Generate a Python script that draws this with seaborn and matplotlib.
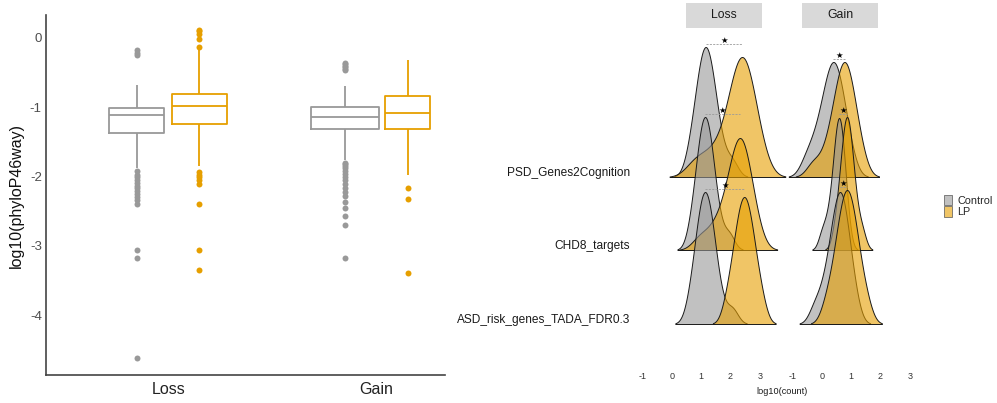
import numpy as np
import pandas as pd
import seaborn as sns
import matplotlib.pyplot as plt
from matplotlib.patches import Patch, Rectangle
from matplotlib.colors import to_rgba
from matplotlib.transforms import blended_transform_factory

sns.set_theme(style="white")
plt.rcParams['font.family'] = ['Liberation Sans', 'DejaVu Sans']
plt.rcParams['axes.unicode_minus'] = False

# ---- left panel: log10(phyloP46way)
# (outliers, whisker ends, and the quartile/median levels repeated so the box lands where it is drawn)
cnv_types = ['Loss', 'Gain']
groups = ['Control', 'LP']

loss_ctrl = ([-4.62, -3.18, -3.06, -2.39, -2.33, -2.29, -2.25, -2.21, -2.17, -2.13,
              -2.09, -2.05, -2.01, -1.97, -1.92, -1.87]
             + [-1.365] * 40 + [-1.106] * 40 + [-1.015] * 40
             + [-0.68, -0.24, -0.22, -0.18])
loss_lp = ([-3.34, -3.06, -2.40, -2.10, -2.05, -2.00, -1.97, -1.94, -1.85]
           + [-1.24] * 40 + [-0.98] * 40 + [-0.81] * 40
           + [-0.17, -0.13, -0.01, 0.06, 0.10, 0.12])
gain_ctrl = ([-3.18, -2.70, -2.57, -2.45, -2.36, -2.28, -2.22, -2.16, -2.10, -2.05,
              -2.00, -1.96, -1.92, -1.88, -1.85, -1.82, -1.80, -1.76]
             + [-1.31] * 40 + [-1.145] * 40 + [-1.0] * 40
             + [-0.69, -0.47, -0.45, -0.42, -0.40, -0.38, -0.36])
gain_lp = ([-3.39, -2.32, -2.17, -1.98]
           + [-1.32] * 40 + [-1.086] * 40 + [-0.84] * 40
           + [-0.32])

# ---- right panel: log10(count) samples per gene set
gene_sets = ['PSD_Genes2Cognition', 'CHD8_targets', 'ASD_risk_genes_TADA_FDR0.3']

loss_psd_ctrl = [0.60, 0.77, 0.86, 0.93, 0.99, 1.05, 1.10, 1.15, 1.20, 1.25, 1.31, 1.37, 1.44, 1.53, 1.70, 2.05]
loss_psd_lp = [0.75, 1.15, 1.50, 1.76, 1.95, 2.06, 2.14, 2.22, 2.28, 2.34, 2.40, 2.46, 2.52, 2.58, 2.66, 2.74, 2.85, 3.04]
loss_chd8_ctrl = [0.65, 0.80, 0.88, 0.94, 0.99, 1.04, 1.09, 1.13, 1.17, 1.22, 1.27, 1.32, 1.38, 1.46, 1.61, 1.95]
loss_chd8_lp = [0.95, 1.35, 1.62, 1.78, 1.93, 2.03, 2.10, 2.17, 2.22, 2.28, 2.33, 2.38, 2.44, 2.49, 2.56, 2.63, 2.73, 2.90]
loss_asd_ctrl = [0.62, 0.77, 0.86, 0.93, 0.98, 1.03, 1.08, 1.13, 1.18, 1.23, 1.28, 1.33, 1.40, 1.49, 1.64, 2.05]
loss_asd_lp = [1.87, 2.05, 2.15, 2.23, 2.30, 2.36, 2.41, 2.47, 2.53, 2.58, 2.64, 2.71, 2.79, 2.89, 3.07]
gain_psd_ctrl = [-0.55, -0.30, -0.12, 0.00, 0.10, 0.18, 0.25, 0.31, 0.37, 0.43, 0.49, 0.55, 0.62, 0.70, 0.80, 0.98]
gain_psd_lp = [-0.30, 0.10, 0.30, 0.42, 0.51, 0.58, 0.64, 0.70, 0.76, 0.81, 0.87, 0.93, 0.99, 1.07, 1.17, 1.35]
gain_chd8_ctrl = [0.00, 0.18, 0.30, 0.38, 0.43, 0.47, 0.51, 0.54, 0.57, 0.60, 0.63, 0.66, 0.70, 0.74, 0.79, 0.88]
gain_chd8_lp = [0.45, 0.58, 0.65, 0.70, 0.74, 0.78, 0.82, 0.85, 0.88, 0.91, 0.95, 0.99, 1.04, 1.10, 1.20, 1.38]
gain_asd_ctrl = [-0.25, 0.02, 0.18, 0.29, 0.37, 0.44, 0.50, 0.55, 0.60, 0.65, 0.70, 0.75, 0.81, 0.88, 0.97, 1.13]
gain_asd_lp = [0.15, 0.38, 0.50, 0.59, 0.67, 0.73, 0.79, 0.85, 0.91, 0.97, 1.03, 1.11, 1.19, 1.30, 1.52]

count_ticks = [-1, 0, 1, 2, 3]

# ---- styles / layout (pixels of the 997x403 canvas)
W, H = 997, 403
box_colors = {'Control': '#999999', 'LP': '#E69F00'}
box_scale = {-0.15: 0.88, 0.15: 0.87, 0.85: 1.09, 1.15: 0.71}
col_left = {'Loss': 630, 'Gain': 780}
col_w = 155
count_xlim = (-1.436, 3.863)
baseline = {'PSD_Genes2Cognition': 177, 'CHD8_targets': 250, 'ASD_risk_genes_TADA_FDR0.3': 324}
ridge_h = {
    ('Loss', 'PSD_Genes2Cognition'): (130, 120),
    ('Loss', 'CHD8_targets'): (133, 112),
    ('Loss', 'ASD_risk_genes_TADA_FDR0.3'): (132, 127),
    ('Gain', 'PSD_Genes2Cognition'): (115, 115),
    ('Gain', 'CHD8_targets'): (132, 133),
    ('Gain', 'ASD_risk_genes_TADA_FDR0.3'): (132, 134),
}
AXH = 150


def fig_rect(x0, y0, w, h):
    return [x0 / W, 1 - (y0 + h) / H, w / W, h / H]


fig = plt.figure(figsize=(W / 100, H / 100), dpi=100)

# ================= boxplot =================
box_df = pd.concat([
    pd.DataFrame({'cnv': 'Loss', 'group': 'Control', 'phylop': loss_ctrl}),
    pd.DataFrame({'cnv': 'Loss', 'group': 'LP', 'phylop': loss_lp}),
    pd.DataFrame({'cnv': 'Gain', 'group': 'Control', 'phylop': gain_ctrl}),
    pd.DataFrame({'cnv': 'Gain', 'group': 'LP', 'phylop': gain_lp}),
], ignore_index=True)

ax = fig.add_axes(fig_rect(46, 15, 399, 360))
sns.boxplot(data=box_df, x='cnv', y='phylop', hue='group', order=cnv_types, hue_order=groups,
            palette=box_colors, fill=False, width=0.6, gap=0, linewidth=1.3, showcaps=False,
            flierprops=dict(marker='o', markersize=4.3), legend=False, ax=ax)


def nearest_scale(cx):
    k = min(box_scale, key=lambda c: abs(c - cx))
    return k, box_scale[k]


for ln in ax.lines:
    if ln.get_marker() == 'o':
        ln.set_markerfacecolor(ln.get_markeredgecolor())
        ln.set_markeredgewidth(0)
        continue
    xd = np.asarray(ln.get_xdata(), dtype=float)
    if xd.size and xd.max() - xd.min() > 1e-9:
        cx, f = nearest_scale((xd.max() + xd.min()) / 2)
        ln.set_xdata(cx + (xd - cx) * f)
for p in ax.patches:
    v = p.get_path().vertices
    cx, f = nearest_scale((v[:, 0].max() + v[:, 0].min()) / 2)
    v[:, 0] = cx + (v[:, 0] - cx) * f

ax.set_xlim(-0.587, 1.33)
ax.set_ylim(-4.86, 0.33)
ax.set_yticks([0, -1, -2, -3, -4])
ax.set_xlabel('')
ax.set_ylabel('log10(phyloP46way)', fontsize=11.5, color='#111111', labelpad=4)
ax.tick_params(axis='y', length=0, pad=3, labelsize=9.5, labelcolor='#4D4D4D')
ax.tick_params(axis='x', length=0, pad=5, labelsize=11.5, labelcolor='#222222')
sns.despine(ax=ax)
for s in ['left', 'bottom']:
    ax.spines[s].set_color('#444444')
    ax.spines[s].set_linewidth(1.2)

# ================= ridgelines =================
samples = {
    ('Loss', 'PSD_Genes2Cognition'): (loss_psd_ctrl, loss_psd_lp),
    ('Loss', 'CHD8_targets'): (loss_chd8_ctrl, loss_chd8_lp),
    ('Loss', 'ASD_risk_genes_TADA_FDR0.3'): (loss_asd_ctrl, loss_asd_lp),
    ('Gain', 'PSD_Genes2Cognition'): (gain_psd_ctrl, gain_psd_lp),
    ('Gain', 'CHD8_targets'): (gain_chd8_ctrl, gain_chd8_lp),
    ('Gain', 'ASD_risk_genes_TADA_FDR0.3'): (gain_asd_ctrl, gain_asd_lp),
}

# tick axes, one per facet column
for cnv in cnv_types:
    bax = fig.add_axes(fig_rect(col_left[cnv], 60, col_w, 309))
    bax.set_facecolor('none')
    bax.set_xlim(count_xlim)
    bax.set_xticks(count_ticks)
    bax.set_yticks([])
    bax.tick_params(axis='x', length=0, pad=2, labelsize=6.5, labelcolor='#333333')
    for s in bax.spines.values():
        s.set_visible(False)

for gs in gene_sets:
    for cnv in cnv_types:
        peaks = []
        for grp, vals, target in zip(groups, samples[(cnv, gs)], ridge_h[(cnv, gs)]):
            rax = fig.add_axes(fig_rect(col_left[cnv], baseline[gs] - AXH, col_w, AXH))
            rax.set_axis_off()
            sns.kdeplot(x=vals, ax=rax, fill=True, color=box_colors[grp], alpha=0.6,
                        linewidth=0.7, edgecolor='#1a1a1a', cut=2.5, bw_adjust=1.0)
            coll = rax.collections[-1]
            coll.set_clip_on(False)
            v = coll.get_paths()[0].vertices
            ymax = v[:, 1].max()
            peaks.append(v[np.argmax(v[:, 1]), 0])
            rax.set_xlim(count_xlim)
            rax.set_ylim(0, ymax * AXH / target)
        # significance marker between the two groups
        trans = blended_transform_factory(rax.transData, rax.transAxes)
        y_line = (max(ridge_h[(cnv, gs)]) + 3) / AXH
        rax.plot(peaks, [y_line, y_line], transform=trans, color='#9a9a9a', lw=0.6,
                 ls=(0, (2.5, 1.5)), clip_on=False)
        rax.text(np.mean(peaks), y_line - 0.005, '\u2605', transform=trans, ha='center', va='bottom',
                 fontsize=6, family=['DejaVu Sans'], color='black')

# facet strips
for cnv, (x0, x1) in zip(cnv_types, [(686, 762), (802, 878)]):
    fig.add_artist(Rectangle((x0 / W, 1 - 28 / H), (x1 - x0) / W, 25 / H,
                             transform=fig.transFigure, facecolor='#D9D9D9', edgecolor='none'))
    fig.text((x0 + x1) / 2 / W, 1 - 15 / H, cnv, ha='center', va='center', fontsize=8.8, color='#1a1a1a')

for gs in gene_sets:
    fig.text(630 / W, 1 - (baseline[gs] - 4) / H, gs, ha='right', va='center', fontsize=8.6, color='#1a1a1a')

fig.text(782 / W, 1 - 392 / H, 'log10(count)', ha='center', va='center', fontsize=6.6, color='#1a1a1a')

handles = [Patch(facecolor=to_rgba(box_colors[g], 0.6), edgecolor='#555555', linewidth=0.5) for g in groups]
fig.legend(handles, groups, loc='upper left', bbox_to_anchor=(944 / W, 1 - 195 / H), frameon=False,
           fontsize=7.8, handlelength=0.75, handleheight=1.1, handletextpad=0.45,
           labelspacing=0.05, borderpad=0, borderaxespad=0)

fig.savefig('out.png', dpi=100)
